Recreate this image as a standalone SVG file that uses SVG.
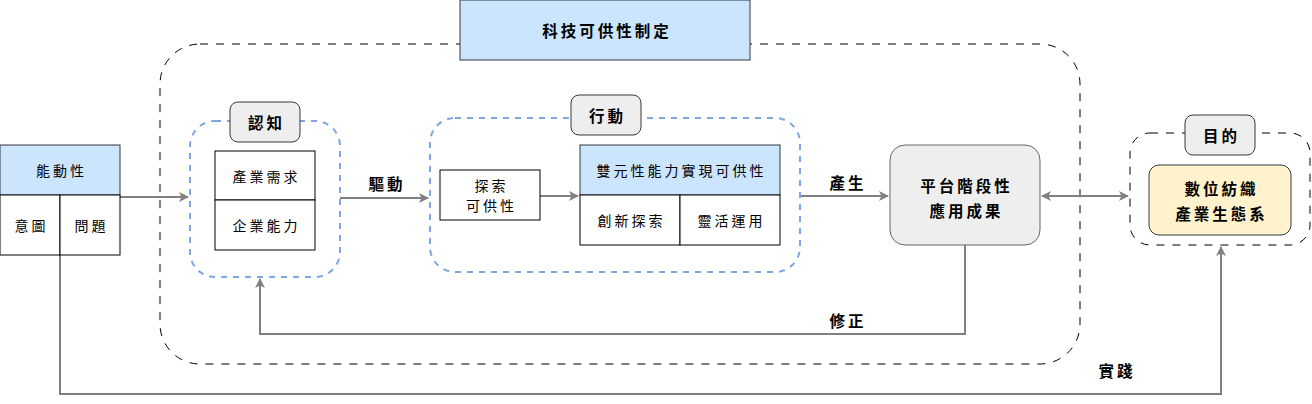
<svg xmlns="http://www.w3.org/2000/svg" width="1312" height="404" viewBox="0 0 1312 404">
<defs>
<style>
text{font-family:"Noto Sans CJK TC","Noto Sans CJK SC",sans-serif;font-size:14px;letter-spacing:3px;fill:#000;text-anchor:middle;dominant-baseline:central}
.b{font-weight:bold}
.l{font-size:15.5px;letter-spacing:3px}
.cell{fill:#fff;stroke:#000;stroke-width:1}
.hdr{fill:#cce5ff;stroke:#36393d;stroke-width:1}
.tag{fill:#eeeeee;stroke:#36393d;stroke-width:1}
.grp{fill:none;stroke:#7ea6e0;stroke-width:2;stroke-dasharray:6 6}
.outer{fill:none;stroke:#000;stroke-width:1;stroke-dasharray:8 8}
.edge{fill:none;stroke:#808080;stroke-width:2}
</style>
<marker id="ah" viewBox="0 0 10 10" refX="9" refY="5" markerWidth="5" markerHeight="5" orient="auto-start-reverse" markerUnits="strokeWidth">
<path d="M0,0 L10,5 L0,10 L2.5,5 Z" fill="#808080"/>
</marker>
</defs>
<rect width="1312" height="404" fill="#fff"/>

<g id="outer-group">
<rect class="outer" x="160" y="44" width="920" height="320" rx="40" ry="40"/>
</g>

<g id="title">
<rect class="hdr" x="460" y="0" width="290" height="60"/>
<text class="b l" x="607" y="30" fill="#333">科技可供性制定</text>
</g>

<g id="connectors">
<path class="edge" d="M120,197 L188,197" marker-end="url(#ah)"/>
<path class="edge" d="M340,198 L428,198" marker-end="url(#ah)"/>
<path class="edge" d="M540,196 L578,196" marker-end="url(#ah)"/>
<path class="edge" d="M800,196 L888,196" marker-end="url(#ah)"/>
<path class="edge" d="M1042,196 L1128,196" marker-start="url(#ah)" marker-end="url(#ah)"/>
<path class="edge" d="M965,245 L965,334 L260,334 L260,279" marker-end="url(#ah)"/>
<path class="edge" d="M60,255 L60,394 L1221,394 L1221,247" marker-end="url(#ah)"/>
<text class="b l" x="387" y="183">驅動</text>
<text class="b l" x="848" y="182">產生</text>
<text class="b l" x="848" y="320">修正</text>
<text class="b l" x="1117" y="370">實踐</text>
</g>

<g id="agency">
<rect class="hdr" x="0" y="145" width="120" height="50"/>
<text x="61.5" y="170">能動性</text>
<rect class="cell" x="0" y="195" width="60" height="60"/>
<rect class="cell" x="60" y="195" width="60" height="60"/>
<text x="31.5" y="225">意圖</text>
<text x="91.5" y="225">問題</text>
</g>

<g id="cognition">
<rect class="grp" x="190" y="121" width="150" height="156" rx="25" ry="25"/>
<rect class="tag" x="230" y="102" width="70" height="40" rx="8" ry="8"/>
<text class="b l" x="266.5" y="122" fill="#333">認知</text>
<rect class="cell" x="215" y="151" width="100" height="49"/>
<rect class="cell" x="215" y="200" width="100" height="50"/>
<text x="266.5" y="175.5">產業需求</text>
<text x="266.5" y="225">企業能力</text>
</g>

<g id="action">
<rect class="grp" x="430" y="118" width="370" height="154" rx="25" ry="25"/>
<rect class="tag" x="571" y="95" width="70" height="40" rx="8" ry="8"/>
<text class="b l" x="607.5" y="115" fill="#333">行動</text>
</g>

<g id="explore">
<rect class="cell" x="440" y="170" width="100" height="50"/>
<text x="491.5" y="185">探索</text>
<text x="491.5" y="205">可供性</text>
</g>

<g id="dual">
<rect class="hdr" x="580" y="145" width="200" height="50"/>
<text x="681.5" y="170">雙元性能力實現可供性</text>
<rect class="cell" x="580" y="195" width="100" height="50"/>
<rect class="cell" x="680" y="195" width="100" height="50"/>
<text x="631.5" y="220">創新探索</text>
<text x="731.5" y="220">靈活運用</text>
</g>

<g id="platform">
<rect x="890" y="145" width="150" height="100" rx="15" ry="15" fill="#eeeeee" stroke="#666" stroke-width="1"/>
<text class="b l" x="966.5" y="185" fill="#333">平台階段性</text>
<text class="b l" x="966.5" y="210" fill="#333">應用成果</text>
</g>

<g id="purpose">
<rect class="outer" x="1130" y="133" width="180" height="112" rx="20" ry="20" stroke="#333"/>
<rect class="tag" x="1185" y="115" width="70" height="40" rx="8" ry="8"/>
<text class="b l" x="1221.5" y="135" fill="#333">目的</text>
<rect x="1149" y="165" width="142" height="70" rx="10" ry="10" fill="#fff2cc" stroke="#36393d" stroke-width="1"/>
<text class="b l" x="1221.5" y="188">數位紡織</text>
<text class="b l" x="1221.5" y="213">產業生態系</text>
</g>
</svg>
